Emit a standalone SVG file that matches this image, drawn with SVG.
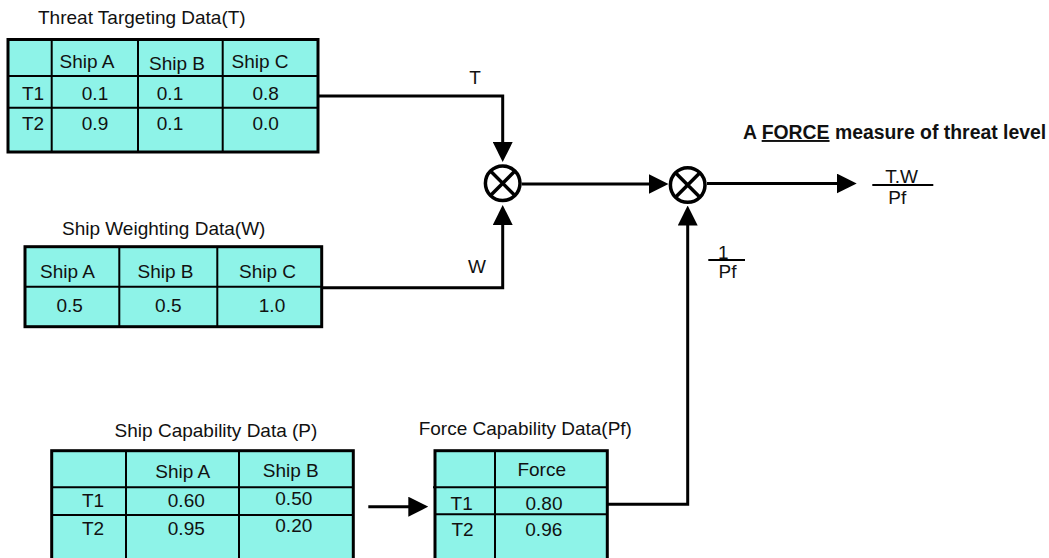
<svg xmlns="http://www.w3.org/2000/svg" width="1049" height="558" viewBox="0 0 1049 558">
<style>
text{font-family:"Liberation Sans",Arial,sans-serif;font-size:19px;fill:#111}
.c{text-anchor:middle}
.b{font-weight:bold;font-size:19.4px}
.cell{fill:#8ef3e8;stroke:#000;stroke-width:3}
.in{stroke:#000;stroke-width:2;fill:none}
.wire{stroke:#000;stroke-width:3;fill:none}
.op{fill:none;stroke:#000;stroke-width:3.5}
</style>
<defs>
<marker id="ah" markerUnits="userSpaceOnUse" markerWidth="20" markerHeight="20" refX="10" refY="10" orient="auto">
<path d="M0,0 L20,10 L0,20 z" fill="#000"/>
</marker>
</defs>
<rect width="1049" height="558" fill="#fff"/>

<g id="connectors">
<path class="wire" d="M318,96 H502.7 V152" marker-end="url(#ah)"/>
<path class="wire" d="M321.7,287.7 H502.7 V215" marker-end="url(#ah)"/>
<path class="wire" d="M521.7,184 H658.5" marker-end="url(#ah)"/>
<path class="wire" d="M607.3,504.3 H687.7 V215.5" marker-end="url(#ah)"/>
<path class="wire" d="M707,183.5 H846.7" marker-end="url(#ah)"/>
<path class="wire" d="M368.3,506.7 H418.3" marker-end="url(#ah)"/>
<text class="c" x="475" y="84">T</text>
<text class="c" x="477" y="273.3">W</text>
<text class="c" x="723.3" y="259.3">1</text>
<line class="in" x1="708.3" y1="260" x2="745" y2="260" stroke-width="1.5"/>
<text class="c" x="727.5" y="278.3">Pf</text>
</g>

<g id="threat-targeting">
<text x="38" y="24">Threat Targeting Data(T)</text>
<rect class="cell" x="8" y="39.5" width="310" height="112.5"/>
<path class="in" d="M51.7,39.5 V152 M138,39.5 V152 M222.7,39.5 V152 M8,76 H318 M7,107.7 H318"/>
<text class="c" x="87" y="68">Ship A</text>
<text class="c" x="177" y="70">Ship B</text>
<text class="c" x="260" y="68">Ship C</text>
<text class="c" x="33" y="100">T1</text>
<text class="c" x="95" y="100">0.1</text>
<text class="c" x="170" y="100">0.1</text>
<text class="c" x="265.7" y="100">0.8</text>
<text class="c" x="33" y="130">T2</text>
<text class="c" x="95" y="130">0.9</text>
<text class="c" x="170" y="130">0.1</text>
<text class="c" x="265.7" y="130">0.0</text>
</g>

<g id="ship-weighting">
<text class="c" x="163.7" y="235">Ship Weighting Data(W)</text>
<rect class="cell" x="25" y="246.7" width="296.7" height="80"/>
<path class="in" d="M119.3,246.7 V326.7 M217.3,246.7 V326.7 M25,286.7 H321.7"/>
<text class="c" x="67.5" y="278.3">Ship A</text>
<text class="c" x="165.5" y="278.3">Ship B</text>
<text class="c" x="267.5" y="278.3">Ship C</text>
<text class="c" x="69.7" y="311.7">0.5</text>
<text class="c" x="168.3" y="311.7">0.5</text>
<text class="c" x="272" y="311.7">1.0</text>
</g>

<g id="multiply-1">
<circle class="op" cx="502.7" cy="183.3" r="17.3"/>
<path class="op" d="M490.5,171.1 L514.9,195.5 M514.9,171.1 L490.5,195.5"/>
</g>

<g id="multiply-2">
<circle class="op" cx="687.7" cy="185" r="17.3"/>
<path class="op" d="M675.5,172.8 L699.9,197.2 M699.9,172.8 L675.5,197.2"/>
</g>

<g id="force-measure">
<text x="743" y="139" class="b">A <tspan text-decoration="underline">FORCE</tspan> measure of threat level</text>
<text class="c" x="901.7" y="183.3">T.W</text>
<line class="in" x1="872.3" y1="185" x2="933.3" y2="185" stroke-width="1.5"/>
<text class="c" x="897.2" y="204">Pf</text>
</g>

<g id="ship-capability">
<text class="c" x="216" y="436.7">Ship Capability Data (P)</text>
<rect class="cell" x="51.7" y="450.7" width="301.6" height="120"/>
<path class="in" d="M126,450.7 V560 M239,450.7 V560 M51.7,487.3 H353.3 M51.7,515 H352"/>
<text class="c" x="182.8" y="478">Ship A</text>
<text class="c" x="290.8" y="476.7">Ship B</text>
<text class="c" x="93" y="506.7">T1</text>
<text class="c" x="186.3" y="506.7">0.60</text>
<text class="c" x="293.8" y="505">0.50</text>
<text class="c" x="93" y="535">T2</text>
<text class="c" x="186.3" y="535">0.95</text>
<text class="c" x="293.8" y="532">0.20</text>
</g>

<g id="force-capability">
<text class="c" x="525.3" y="435">Force Capability Data(Pf)</text>
<rect class="cell" x="435" y="450.7" width="172.3" height="120"/>
<path class="in" d="M495,450.7 V560 M433,487.3 H607.3 M435,514.3 H607.3"/>
<text class="c" x="541.7" y="475.7">Force</text>
<text class="c" x="461.7" y="510">T1</text>
<text class="c" x="544" y="510">0.80</text>
<text class="c" x="462.5" y="536">T2</text>
<text class="c" x="543.8" y="536">0.96</text>
</g>
</svg>
